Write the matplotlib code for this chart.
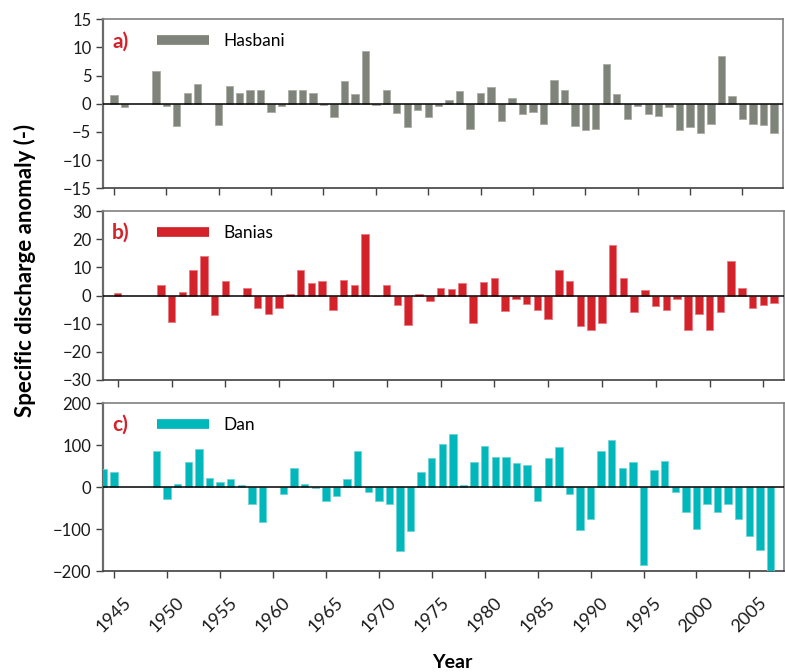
import numpy as np
import matplotlib
matplotlib.use("Agg")
import matplotlib.pyplot as plt
import matplotlib.transforms as mtransforms
from matplotlib.lines import Line2D

plt.rcParams['font.family'] = ['Lato', 'DejaVu Sans']

nan = np.nan

# Hasbani, 1945-2008
years_a = np.arange(1945, 2009)
hasbani = [1.5, -0.5, nan, nan, 5.9, -0.4, -3.9, 2.0, 3.6, nan,
           -3.8, 3.2, 1.95, 2.4, 2.4, -1.4, -0.4, 2.5, 2.4, 2.0,
           -0.2, -2.4, 4.1, 1.8, 9.4, -0.2, 2.4, -1.7, -4.1, -1.1,
           -2.3, -0.4, 0.6, 2.2, -4.5, 2.0, 3.0, -3.0, 1.1, -1.8,
           -1.5, -3.5, 4.3, 2.4, -4.0, -4.7, -4.4, 7.0, 1.7, -2.7,
           -0.4, -1.8, -2.2, -0.5, -4.6, -4.2, -5.1, -3.5, 8.5, 1.4,
           -2.7, -3.6, -3.8, -5.1]

# Banias, 1945-2006
years_b = np.arange(1945, 2007)
banias = [1.0, nan, nan, nan, 3.8, -9.3, 1.2, 9.2, 14.2, -7.1,
          5.1, nan, 2.5, -4.3, -6.4, -4.3, 0.5, 8.9, 4.3, 5.3,
          -5.2, 5.4, 3.7, 21.8, -0.3, 3.9, -3.3, -10.3, 0.7, -2.1,
          2.6, 2.25, 4.3, -9.9, 4.7, 6.2, -5.6, -1.1, -3.0, -5.1,
          -8.3, 8.9, 5.1, -10.7, -12.4, -9.6, 17.9, 6.3, -6.0, 2.1,
          -3.6, -5.2, -1.2, -12.1, -6.5, -12.1, -5.7, 12.2, 2.7, -4.3,
          -3.2, -2.8]

# Dan, 1944-2007
years_c = np.arange(1944, 2008)
dan = [43, 36.5, nan, nan, nan, 86.5, -29, 7, 60, 90,
       21, 13, 20, 5.5, -39, -82, nan, -17.5, 46, 7,
       -2.5, -34, -22, 19, 86, -12, -33, -39, -152, -105,
       37, 70, 102, 127, 5, 60, 98, 72, 72, 58,
       53, -32, 70, 96, -16, -102, -77, 86.5, 113, 46,
       60, -186, 40, 63, -12, -60, -101, -39, -60, -39,
       -77, -117, -151, -200]

panels = [
    dict(x=years_a, y=hasbani, name='Hasbani', tag='a)', color='#7e8479',
         edge='#a9ada5', ylim=(-15, 15), step=5, xlim=(1943.98, 2008.9)),
    dict(x=years_b, y=banias, name='Banias', tag='b)', color='#d4222b',
         edge='#e87b80', ylim=(-30, 30), step=10, xlim=(1943.66, 2006.95)),
    dict(x=years_c, y=dan, name='Dan', tag='c)', color='#00b8bc',
         edge='#6fd4d6', ylim=(-200, 200), step=100, xlim=(1943.97, 2008.3)),
]

W, H = 785, 672
fig = plt.figure(figsize=(W / 100, H / 100), dpi=100)

# axes boxes in pixels: (left, top, right, bottom)
boxes = [(103.3, 19.3, 783.3, 188.3),
         (103.3, 211.0, 784.3, 380.0),
         (103.3, 403.3, 784.3, 571.0)]

spine_col = '#808080'
for p, (l, t, r, b) in zip(panels, boxes):
    ax = fig.add_axes([l / W, 1 - b / H, (r - l) / W, (b - t) / H])
    ax.bar(p['x'], p['y'], width=0.7, color=p['color'],
           edgecolor=p['edge'], linewidth=0.6, zorder=3)
    ax.axhline(0, color='black', lw=1.1, zorder=4)
    ax.set_xlim(*p['xlim'])
    lo, hi = p['ylim']
    ax.set_ylim(lo, hi)
    ax.set_yticks(np.arange(lo, hi + 1, p['step']))
    ax.set_xticks(np.arange(1945, 2006, 5))
    ax.set_xticks(np.arange(1945, 2006, 10), minor=True)
    ax.grid(True, which='minor', axis='x', color='#d9d9d9', lw=1, zorder=0)
    ax.tick_params(axis='x', which='minor', length=0)
    ax.tick_params(axis='both', which='major', direction='out', length=5,
                   width=1, color='#404040', labelsize=12, labelcolor='#1a1a1a')
    for s in ax.spines.values():
        s.set_color(spine_col)
        s.set_linewidth(1.2)
    ax.spines['left'].set_color('#6a6a6a')
    ax.spines['left'].set_linewidth(1.6)
    ax.spines['bottom'].set_color('#404040')
    if p['tag'] == 'c)':
        ax.set_xticklabels([str(v) for v in range(1945, 2006, 5)],
                           rotation=45, ha='right', va='top',
                           rotation_mode='anchor', fontsize=13)
        ax.tick_params(axis='x', pad=12)
        shift = mtransforms.ScaledTranslation(9 / 100, 0, fig.dpi_scale_trans)
        for lab in ax.get_xticklabels():
            lab.set_transform(lab.get_transform() + shift)
    else:
        ax.set_xticklabels([])
    ax.text(0.013, 0.87, p['tag'], transform=ax.transAxes, color='#d4222b',
            fontsize=15, fontweight='bold', va='center', ha='left')
    h = Line2D([], [], color=p['color'], lw=7, solid_capstyle='butt')
    ax.legend([h], [p['name']], loc='center left',
              bbox_to_anchor=(0.069, 0.87), frameon=False, fontsize=12.5,
              handlelength=3.0, handletextpad=0.8, borderaxespad=0)

fig.text(25 / W, 1 - 270 / H, 'Specific discharge anomaly (-)', rotation=90,
         ha='center', va='center', fontsize=16, fontweight='bold')
fig.text(452 / W, 1 - 662 / H, 'Year', ha='center', va='center',
         fontsize=14, fontweight='bold')

fig.savefig('out.png', dpi=100)
